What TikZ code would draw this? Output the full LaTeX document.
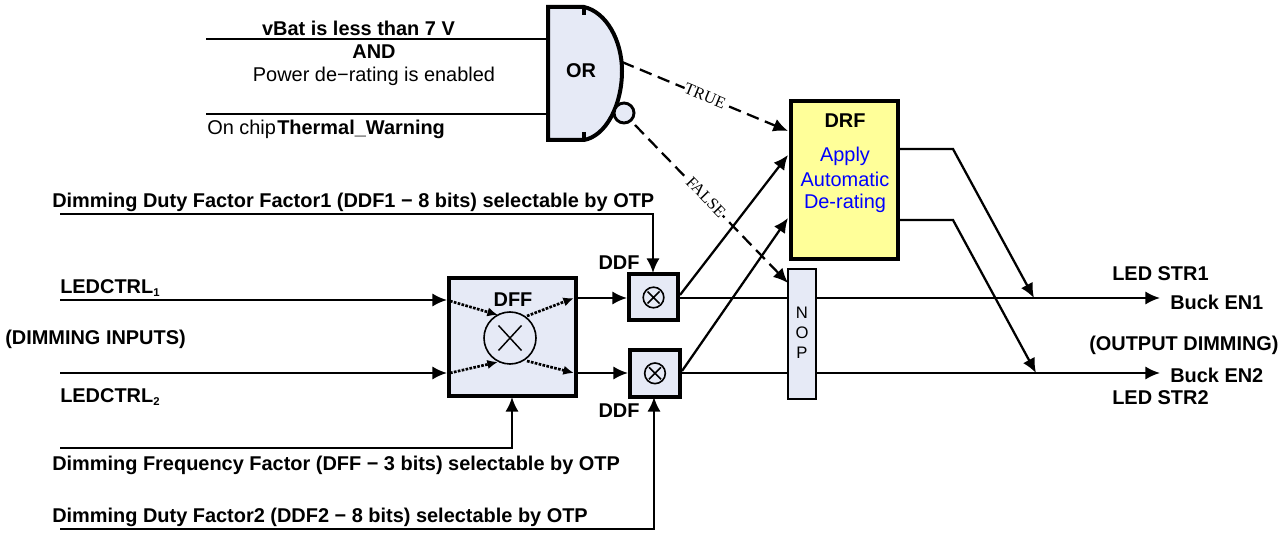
\documentclass[tikz,border=0pt]{standalone}
\usepackage{fontspec}
\setmainfont{Liberation Sans}
\newfontfamily\serifsm{Liberation Serif}
\usetikzlibrary{arrows.meta}
\definecolor{boxfill}{HTML}{E6EAF6}
\definecolor{drffill}{HTML}{FFFF99}
\definecolor{drfblue}{HTML}{0000FF}
\tikzset{
 x=0.75pt,y=-0.75pt,
 wire/.style={line width=1.7pt,draw=black},
 arr/.style={wire,-{Latex[length=11pt,width=10pt]}},
 dash1/.style={arr,dash pattern=on 9.5pt off 5pt},
 dot1/.style={line width=2pt,dash pattern=on 2pt off 1pt,-{Latex[length=8pt,width=7pt]}},
 blockA/.style={draw=black,line width=3pt,fill=boxfill,inner sep=0pt,anchor=north west},
 lab/.style={font=\fontsize{14.95}{17}\selectfont\bfseries,inner sep=0pt},
 labn/.style={font=\fontsize{14.95}{17}\selectfont,inner sep=0pt},
 tag/.style={font=\serifsm\fontsize{12.3}{14}\selectfont,fill=white,inner sep=0.3pt},
}
\newcommand{\lsub}[1]{\raisebox{-2.5pt}{\fontsize{8.5}{9}\selectfont\bfseries #1}}
\begin{document}
\begin{tikzpicture}
\useasboundingbox (0,0) rectangle (1286,534);
% blocks
\node[blockA,minimum width=95.25pt,minimum height=88.5pt] (dff) at (446.5,276) {};
\node[blockA,minimum width=37.2pt,minimum height=34.5pt] (m1) at (626.7,272.5) {};
\node[blockA,minimum width=37.5pt,minimum height=35pt] (m2) at (628,348) {};
\node[blockA,line width=1.5pt,minimum width=20.5pt,minimum height=97.7pt] (nop) at (787.3,268) {};
\node[blockA,fill=drffill,minimum width=80pt,minimum height=118.5pt] (drf) at (789,99) {};
% free-end coordinates
\coordinate (in1) at (60,300);
\coordinate (in2) at (60,373);
\coordinate (dffW1) at (447,300);
\coordinate (dffW2) at (447,373);
\coordinate (dffE1) at (576,298);
\coordinate (dffE2) at (576,373);
\coordinate (m1W) at (627,298);
\coordinate (m2W) at (628,373);
\coordinate (m1E) at (679,298);
\coordinate (m2E) at (681,373);
\coordinate (out1) at (1160,298);
\coordinate (out2) at (1160,373);
\coordinate (hit1) at (1034,298);
\coordinate (hit2) at (1036,373);
\coordinate (drfS1) at (899,149);
\coordinate (bend1) at (953,149);
\coordinate (drfS2) at (899,220);
\coordinate (bend2) at (953,220);
\coordinate (drfA) at (788,131);
\coordinate (drfB) at (788,155);
\coordinate (drfC) at (788,218);
\coordinate (nopA) at (788,283);
\coordinate (ddf1s) at (60,214);
\coordinate (ddf1c) at (653,214);
\coordinate (m1N) at (653,273);
\coordinate (dfs) at (60,448);
\coordinate (dfc) at (512,448);
\coordinate (dffS) at (512,397);
\coordinate (ddf2s) at (60,529);
\coordinate (ddf2c) at (654,529);
\coordinate (m2S) at (654,397);
\coordinate (orI1) at (548,39);
\coordinate (orI2) at (548,114);
\coordinate (orS1) at (206,39);
\coordinate (orS2) at (206,114);
\coordinate (orOut) at (622,62);
\coordinate (orBub) at (635,125);
% wires
\draw[arr] (in1) -- (dffW1);
\draw[arr] (in2) -- (dffW2);
\draw[arr] (dffE1) -- (m1W);
\draw[arr] (dffE2) -- (m2W);
\draw[wire] (m1E) -- (nop.west |- m1E);
\draw[wire] (m2E) -- (nop.west |- m2E);
\draw[arr] (nop.east |- out1) -- (out1);
\draw[arr] (nop.east |- out2) -- (out2);
\draw[arr] (m1E) ++(1,-3) -- (drfB);
\draw[arr] (m2E) ++(1,-2) -- (drfC);
\draw[arr] (drfS1) -- (bend1) -- (hit1);
\draw[arr] (drfS2) -- (bend2) -- (hit2);
\draw[arr] (ddf1s) -- (ddf1c) -- (m1N);
\draw[arr] (dfs) -- (dfc) -- (dffS);
\draw[arr] (ddf2s) -- (ddf2c) -- (m2S);
\draw[wire] (orS1) -- (orI1);
\draw[wire] (orS2) -- (orI2);
% OR gate
\filldraw[draw=black,line width=3pt,fill=boxfill,line join=miter]
  (548,7) -- (584,7) .. controls (606,12) and (622,40) .. (622,71)
  .. controls (622,105) and (606,136) .. (584,140) -- (548,140) -- cycle;
\draw[line width=3pt] (584,7) -- (584,15) (584,132) -- (584,140);
\node[draw=black,line width=2.2pt,fill=boxfill,circle,minimum size=15pt,inner sep=0pt] (bub) at (624,113) {};
\node[lab] (orl) at (581,71) {OR};
% dashed
\draw[dash1] (orOut) -- (drfA);
\draw[dash1] (orBub) -- (nopA);
\node[tag,rotate=-22.5] (tlab) at (705,96) {TRUE};
\node[tag,rotate=-45.9] (flab) at (706,197) {FALSE};
% DFF internals
\node[draw=black,line width=1.2pt,circle,minimum size=39pt,inner sep=0pt,fill=boxfill] (mx) at (510,338) {};
\draw[line width=1.1pt] (mx.center) ++(-11.5,-12.5) -- ++(23,25) (mx.center) ++(11.5,-12.5) -- ++(-23,25);
\node[lab] (dffl) at (513,300) {DFF};
\coordinate (mxA) at (498,315);\coordinate (mxB) at (527,316);\coordinate (mxC) at (498,362);\coordinate (mxD) at (527,361);
\coordinate (cA) at (450,301);\coordinate (cB) at (574,298);\coordinate (cC) at (450,373);\coordinate (cD) at (574,373);
\draw[dot1] (cA) -- (mxA);
\draw[dot1] (mxB) -- (cB);
\draw[dot1] (cC) -- (mxC);
\draw[dot1] (mxD) -- (cD);
% small multipliers
\foreach \n/\c in {o1/m1,o2/m2}{
 \node[draw=black,line width=1.2pt,circle,minimum size=15.5pt,inner sep=0pt] (\n) at (\c.center) {};
 \draw[line width=1.2pt] (\n.center) ++(-6,-6) -- ++(12,12) (\n.center) ++(6,-6) -- ++(-12,12);
}
% labels
\node[lab] (t1) at (358.5,28) {vBat is less than 7 V};
\node[lab] (t2) at (374,52) {AND};
\node[labn] (t3) at (374,76) {Power de−rating is enabled};
\node[labn,anchor=west] (t4) at (207,129) {On chip\hspace{1pt}\textbf{Thermal\_Warning}};
\node[lab,anchor=west] (t5) at (52,202) {Dimming Duty Factor Factor1 (DDF1 − 8 bits) selectable by OTP};
\node[lab,anchor=west] (t6) at (60,288) {LEDCTRL\lsub{1}};
\node[lab,anchor=west] (t7) at (5,339) {(DIMMING INPUTS)};
\node[lab,anchor=west] (t8) at (60,397) {LEDCTRL\lsub{2}};
\node[lab,anchor=west] (t9) at (52,465) {Dimming Frequency Factor (DFF − 3 bits) selectable by OTP};
\node[lab,anchor=west] (t10) at (52,517) {Dimming Duty Factor2 (DDF2 − 8 bits) selectable by OTP};
\node[lab] (d1) at (619,263) {DDF};
\node[lab] (d2) at (619,411) {DDF};
\node[lab] (dr) at (845,121) {DRF};
\node[labn,text=drfblue] (a1) at (845,156) {Apply};
\node[labn,text=drfblue] (a2) at (845,179) {Automatic};
\node[labn,text=drfblue] (a3) at (845,203) {De-rating};
\node[font=\fontsize{12.5}{14}\selectfont,inner sep=0pt] (n1) at (802,313) {N};
\node[font=\fontsize{12.5}{14}\selectfont,inner sep=0pt] (n2) at (802,333) {O};
\node[font=\fontsize{12.5}{14}\selectfont,inner sep=0pt] (n3) at (802,353) {P};
\node[lab,anchor=west] (r1) at (1112,274) {LED STR1};
\node[lab,anchor=west] (r2) at (1170,302) {Buck EN1};
\node[lab,anchor=west] (r3) at (1089,345) {(OUTPUT DIMMING)};
\node[lab,anchor=west] (r4) at (1170,375) {Buck EN2};
\node[lab,anchor=west] (r5) at (1112,398) {LED STR2};
\end{tikzpicture}
\end{document}
